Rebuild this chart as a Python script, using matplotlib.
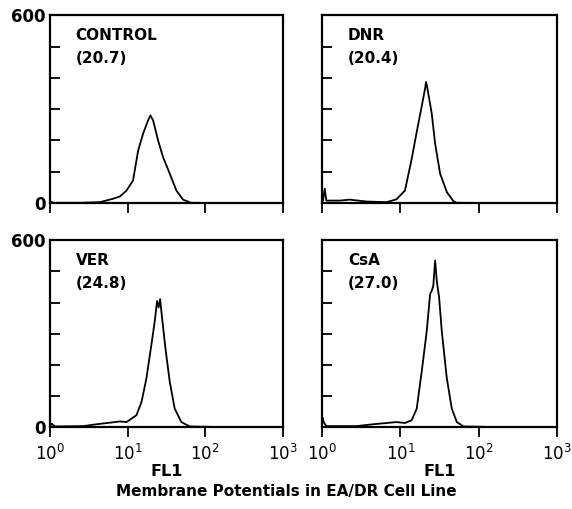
import matplotlib
matplotlib.use("Agg")
import matplotlib.pyplot as plt
import numpy as np

# histogram outlines: log10(FL1) decade and cell count
ctrl_log = [0.0, 0.02, 0.05, 0.4, 0.643, 0.814, 0.9, 0.986, 1.07, 1.136, 1.2, 1.264, 1.294, 1.329,
            1.393, 1.457, 1.543, 1.629, 1.714, 1.82, 2.2, 3.0]
ctrl_cnt = [6, 3, 1, 1, 3, 14, 21, 40, 72, 168, 222, 264, 280, 264,
            200, 147, 94, 40, 11, 1, 0, 0]

dnr_log = [0.0, 0.013, 0.034, 0.055, 0.226, 0.354, 0.568, 0.824, 0.95, 1.058, 1.14, 1.208, 1.27,
           1.315, 1.327, 1.345, 1.4, 1.443, 1.507, 1.593, 1.677, 1.72, 2.2, 3.0]
dnr_cnt = [5, 8, 46, 8, 8, 11, 5, 3, 12, 40, 136, 227, 307,
           366, 387, 366, 286, 190, 94, 35, 6, 1, 0, 0]

ver_log = [0.0, 0.02, 0.064, 0.43, 0.6, 0.77, 0.9, 0.986, 1.05, 1.114, 1.18, 1.243, 1.307, 1.35,
           1.38, 1.4, 1.419, 1.444, 1.487, 1.543, 1.607, 1.693, 1.8, 2.2, 3.0]
ver_cnt = [3, 11, 2, 3, 9, 14, 18, 16, 27, 38, 81, 157, 265, 340,
           405, 384, 411, 351, 254, 146, 59, 16, 2, 0, 0]

csa_log = [0.0, 0.004, 0.02, 0.055, 0.44, 0.653, 0.824, 0.95, 1.058, 1.144, 1.208, 1.272, 1.336,
           1.379, 1.4, 1.42, 1.443, 1.464, 1.494, 1.528, 1.592, 1.656, 1.72, 1.805, 2.2, 3.0]
csa_cnt = [10, 32, 16, 3, 3, 9, 13, 16, 13, 22, 59, 178, 308,
           427, 438, 454, 535, 470, 416, 308, 157, 59, 16, 2, 0, 0]

names = ["CONTROL", "DNR", "VER", "CsA"]
means = ["(20.7)", "(20.4)", "(24.8)", "(27.0)"]
xticks = [1, 10, 100, 1000]
xtick_labels = ["$10^0$", "$10^1$", "$10^2$", "$10^3$"]

plt.rcParams["font.family"] = "DejaVu Sans"
plt.rcParams["mathtext.default"] = "regular"

fig = plt.figure(figsize=(5.72, 5.09), dpi=100)
boxes = [[0.0874, 0.601, 0.407, 0.369],
         [0.563, 0.601, 0.411, 0.369],
         [0.0874, 0.161, 0.407, 0.367],
         [0.563, 0.161, 0.411, 0.367]]
series = [(ctrl_log, ctrl_cnt), (dnr_log, dnr_cnt), (ver_log, ver_cnt), (csa_log, csa_cnt)]

for i, (box, (lg, cnt)) in enumerate(zip(boxes, series)):
    ax = fig.add_axes(box)
    ax.plot(10 ** np.array(lg), cnt, color="black", lw=1.3)
    ax.set_xscale("log")
    ax.set_xlim(1, 1000)
    ax.set_ylim(0, 600)
    for s in ax.spines.values():
        s.set_linewidth(1.6)
    ax.set_yticks(range(0, 601, 100))
    ax.tick_params(axis="y", direction="in", length=7, width=1.3, labelsize=12, pad=3)
    ax.tick_params(axis="x", direction="out", length=7, width=1.3, labelsize=12, pad=5)
    ax.minorticks_off()
    ax.set_xticks(xticks)
    if i % 2 == 0:
        ax.set_yticklabels(["0", "", "", "", "", "", "600"], fontweight="bold")
    else:
        ax.set_yticklabels([])
    if i >= 2:
        ax.set_xticklabels(xtick_labels)
        ax.set_xlabel("FL1", fontsize=11.5, fontweight="bold", labelpad=0)
    else:
        ax.set_xticklabels([])
    ax.text(0.11, 0.93, names[i] + "\n" + means[i], transform=ax.transAxes,
            fontsize=11, fontweight="bold", va="top", ha="left", linespacing=1.6)

fig.text(0.5, 0.035, "Membrane Potentials in EA/DR Cell Line", ha="center",
         va="center", fontsize=11, fontweight="bold")

fig.savefig("out.png", dpi=100)
